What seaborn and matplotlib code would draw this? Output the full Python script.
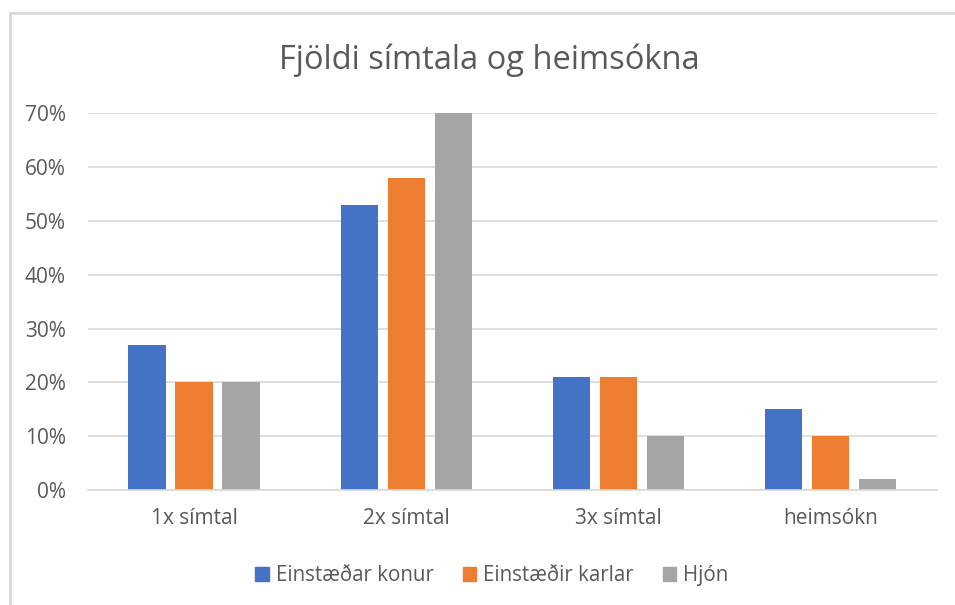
import pandas as pd
import matplotlib.pyplot as plt
import seaborn as sns
from matplotlib.lines import Line2D
from matplotlib.ticker import PercentFormatter

categories = ['1x símtal', '2x símtal', '3x símtal', 'heimsókn']
groups = ['Einstæðar konur', 'Einstæðir karlar', 'Hjón']
konur = [27, 53, 21, 15]
karlar = [20, 58, 21, 10]
hjon = [20, 70, 10, 2]
colors = ['#4472C4', '#ED7D31', '#A5A5A5']

df = pd.DataFrame({
    'flokkur': categories * 3,
    'hopur': [groups[0]] * 4 + [groups[1]] * 4 + [groups[2]] * 4,
    'gildi': konur + karlar + hjon,
})

sns.set_style('white')
plt.rcParams['font.family'] = ['Open Sans', 'DejaVu Sans']
text_col = '#595959'

fig = plt.figure(figsize=(9.55, 6.05), dpi=100)
ax = fig.add_axes([0.092, 0.19, 0.889, 0.623])

sns.barplot(data=df, x='flokkur', y='gildi', hue='hopur', palette=colors,
            width=0.665, gap=0.21, saturation=1, ax=ax, legend=False,
            linewidth=0)

ax.set_ylim(0, 70)
ax.set_yticks(range(0, 71, 10))
ax.yaxis.set_major_formatter(PercentFormatter(decimals=0))
ax.grid(axis='y', color='#D9D9D9', linewidth=1.2)
ax.set_axisbelow(True)
for s in ['top', 'right', 'left']:
    ax.spines[s].set_visible(False)
ax.spines['bottom'].set_color('#D9D9D9')
ax.spines['bottom'].set_linewidth(1.2)
ax.tick_params(axis='both', length=0, labelsize=15, colors=text_col)
ax.tick_params(axis='y', pad=16)
ax.tick_params(axis='x', pad=13)
ax.set_xlabel('')
ax.set_ylabel('')

fig.text(0.512, 0.9, 'Fjöldi símtala og heimsókna', ha='center', va='center',
         fontsize=23.5, color=text_col)

handles = [plt.Rectangle((0, 0), 1, 1, color=c) for c in colors]
fig.legend(handles, groups, loc='center', bbox_to_anchor=(0.515, 0.048), ncol=3,
           frameon=False, fontsize=14.8, labelcolor=text_col, handlelength=0.65,
           handleheight=0.65, handletextpad=0.35, columnspacing=1.4)

# chart frame (left and top edges visible)
fig.add_artist(Line2D([0.0105, 0.0105], [0, 0.979], color='#D9D9D9', lw=2,
                      transform=fig.transFigure))
fig.add_artist(Line2D([0.0105, 1], [0.979, 0.979], color='#D9D9D9', lw=2,
                      transform=fig.transFigure))

fig.savefig('out.png', dpi=100)
